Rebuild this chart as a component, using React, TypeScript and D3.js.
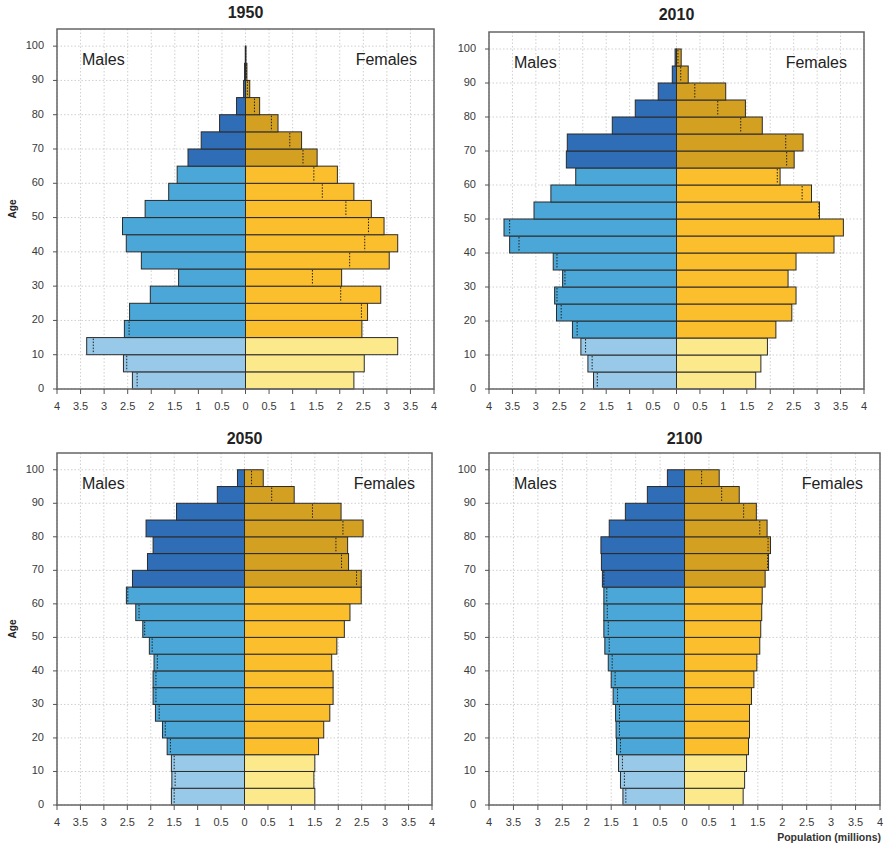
import React from 'react';
import * as d3 from 'd3';

// age groups, bottom to top
const ageStarts = [0, 5, 10, 15, 20, 25, 30, 35, 40, 45, 50, 55, 60, 65, 70, 75, 80, 85, 90, 95];
const ageTicks = [0, 10, 20, 30, 40, 50, 60, 70, 80, 90, 100];
const popTicks = [-4, -3.5, -3, -2.5, -2, -1.5, -1, -0.5, 0, 0.5, 1, 1.5, 2, 2.5, 3, 3.5, 4];

// population in millions, 0-4 ... 95-99
const males1950 = [2.40, 2.59, 3.37, 2.57, 2.46, 2.02, 1.42, 2.21, 2.53, 2.61, 2.13, 1.63, 1.45, 1.22, 0.94, 0.55, 0.19, 0.04, 0.02, 0.005];
const females1950 = [2.30, 2.52, 3.23, 2.47, 2.59, 2.87, 2.04, 3.05, 3.23, 2.94, 2.67, 2.30, 1.95, 1.52, 1.19, 0.69, 0.30, 0.09, 0.03, 0.01];

const males2010 = [1.77, 1.89, 2.04, 2.22, 2.56, 2.60, 2.43, 2.63, 3.56, 3.68, 3.04, 2.68, 2.15, 2.35, 2.33, 1.37, 0.88, 0.39, 0.09, 0.03];
const females2010 = [1.69, 1.80, 1.94, 2.12, 2.46, 2.55, 2.38, 2.55, 3.36, 3.56, 3.05, 2.88, 2.21, 2.51, 2.70, 1.83, 1.47, 1.05, 0.25, 0.10];

const males2050 = [1.56, 1.55, 1.56, 1.65, 1.75, 1.90, 1.95, 1.95, 1.93, 2.03, 2.17, 2.32, 2.52, 2.39, 2.07, 1.95, 2.10, 1.45, 0.58, 0.15];
const females2050 = [1.50, 1.48, 1.50, 1.58, 1.69, 1.82, 1.89, 1.89, 1.86, 1.97, 2.13, 2.25, 2.49, 2.49, 2.22, 2.20, 2.53, 2.06, 1.06, 0.40];

const males2100 = [1.26, 1.31, 1.35, 1.39, 1.40, 1.41, 1.46, 1.50, 1.56, 1.63, 1.65, 1.65, 1.65, 1.68, 1.70, 1.71, 1.54, 1.21, 0.76, 0.35];
const females2100 = [1.20, 1.23, 1.27, 1.31, 1.33, 1.33, 1.37, 1.42, 1.48, 1.54, 1.56, 1.58, 1.59, 1.65, 1.72, 1.76, 1.69, 1.47, 1.12, 0.71];

const maleColors = { young: '#98c9e8', working: '#4aa7d7', old: '#2f6db6' };
const femaleColors = { young: '#fbe98b', working: '#fbbe2c', old: '#d4a021' };

const font = '"Liberation Sans", Arial, sans-serif';

const band = (age: number) => (age < 15 ? 'young' : age < 65 ? 'working' : 'old');

type PanelProps = {
  title: string;
  males: number[];
  females: number[];
  left: number;
  right: number;
  top: number;
  bottom: number;
  titleY: number;
  showAge?: boolean;
  showPop?: boolean;
};

const Pyramid = ({ title, males, females, left, right, top, bottom, titleY, showAge, showPop }: PanelProps) => {
  const x = d3.scaleLinear().domain([-4, 4]).range([left, right]);
  const y = d3.scaleLinear().domain([0, 105]).range([bottom, top]);
  const x0 = x(0);

  const bars = ageStarts.map((a, i) => ({ age: a, m: males[i], f: females[i] }));

  return (
    <g>
      <text x={x0} y={titleY} textAnchor="middle" dominantBaseline="middle"
        style={{ font: `bold 16px ${font}`, fill: '#222' }}>{title}</text>

      {/* grid */}
      {popTicks.map(t => (
        <line key={'gx' + t} x1={x(t)} x2={x(t)} y1={top} y2={bottom}
          stroke="#cfcfcf" strokeWidth={1} strokeDasharray="1.5,2" />
      ))}
      {ageTicks.map(t => (
        <line key={'gy' + t} x1={left} x2={right} y1={y(t)} y2={y(t)}
          stroke="#cfcfcf" strokeWidth={1} strokeDasharray="1.5,2" />
      ))}

      {/* bars */}
      {bars.map(d => {
        const yTop = y(d.age + 5);
        const h = y(d.age) - yTop;
        const b = band(d.age);
        return (
          <g key={'b' + d.age}>
            <rect x={x(-d.m)} y={yTop} width={x0 - x(-d.m)} height={h}
              fill={maleColors[b]} stroke="#2b2b2b" strokeWidth={1} />
            <rect x={x0} y={yTop} width={x(d.f) - x0} height={h}
              fill={femaleColors[b]} stroke="#2b2b2b" strokeWidth={1} />
            {d.f < d.m && (
              <line x1={x(-d.f)} x2={x(-d.f)} y1={yTop + 1} y2={yTop + h - 1}
                stroke="#222" strokeWidth={1} strokeDasharray="1.5,1.5" />
            )}
            {d.m < d.f && (
              <line x1={x(d.m)} x2={x(d.m)} y1={yTop + 1} y2={yTop + h - 1}
                stroke="#222" strokeWidth={1} strokeDasharray="1.5,1.5" />
            )}
          </g>
        );
      })}

      {/* frame */}
      <rect x={left} y={top} width={right - left} height={bottom - top}
        fill="none" stroke="#666" strokeWidth={1.5} />

      {/* x axis */}
      {popTicks.map(t => (
        <g key={'tx' + t}>
          <line x1={x(t)} x2={x(t)} y1={bottom} y2={bottom + 5} stroke="#555" strokeWidth={1} />
          <text x={x(t)} y={bottom + 21} textAnchor="middle"
            style={{ font: `11px ${font}`, fill: '#3a3a3a' }}>{d3.format('')(Math.abs(t))}</text>
        </g>
      ))}

      {/* y axis */}
      {ageTicks.map(t => (
        <g key={'ty' + t}>
          <line x1={left - 4} x2={left} y1={y(t)} y2={y(t)} stroke="#555" strokeWidth={1} />
          <text x={left - 13} y={y(t)} textAnchor="end" dominantBaseline="middle"
            style={{ font: `11px ${font}`, fill: '#3a3a3a' }}>{t}</text>
        </g>
      ))}

      <text x={left + 25} y={top + 32} dominantBaseline="middle"
        style={{ font: `16px ${font}`, fill: '#222' }}>Males</text>
      <text x={right - 17} y={top + 32} textAnchor="end" dominantBaseline="middle"
        style={{ font: `16px ${font}`, fill: '#222' }}>Females</text>

      {showAge && (
        <text transform={`translate(13,${(top + bottom) / 2}) rotate(-90)`} textAnchor="middle"
          dominantBaseline="middle" style={{ font: `bold 10px ${font}`, fill: '#222' }}>Age</text>
      )}
      {showPop && (
        <text x={right + 1} y={bottom + 36} textAnchor="end"
          style={{ font: `bold 10.5px ${font}`, fill: '#333' }}>Population (millions)</text>
      )}
    </g>
  );
};

export default function App() {
  return (
    <svg width={885} height={845} style={{ position: 'absolute', left: 0, top: 0, background: '#fff' }}>
      <Pyramid title="1950" males={males1950} females={females1950}
        left={57} right={434} top={29} bottom={389} titleY={14} showAge />
      <Pyramid title="2010" males={males2010} females={females2010}
        left={489} right={864} top={32} bottom={389} titleY={16} />
      <Pyramid title="2050" males={males2050} females={females2050}
        left={57} right={432} top={453} bottom={805} titleY={440} showAge />
      <Pyramid title="2100" males={males2100} females={females2100}
        left={489} right={880} top={453} bottom={805} titleY={440} showPop />
    </svg>
  );
}
